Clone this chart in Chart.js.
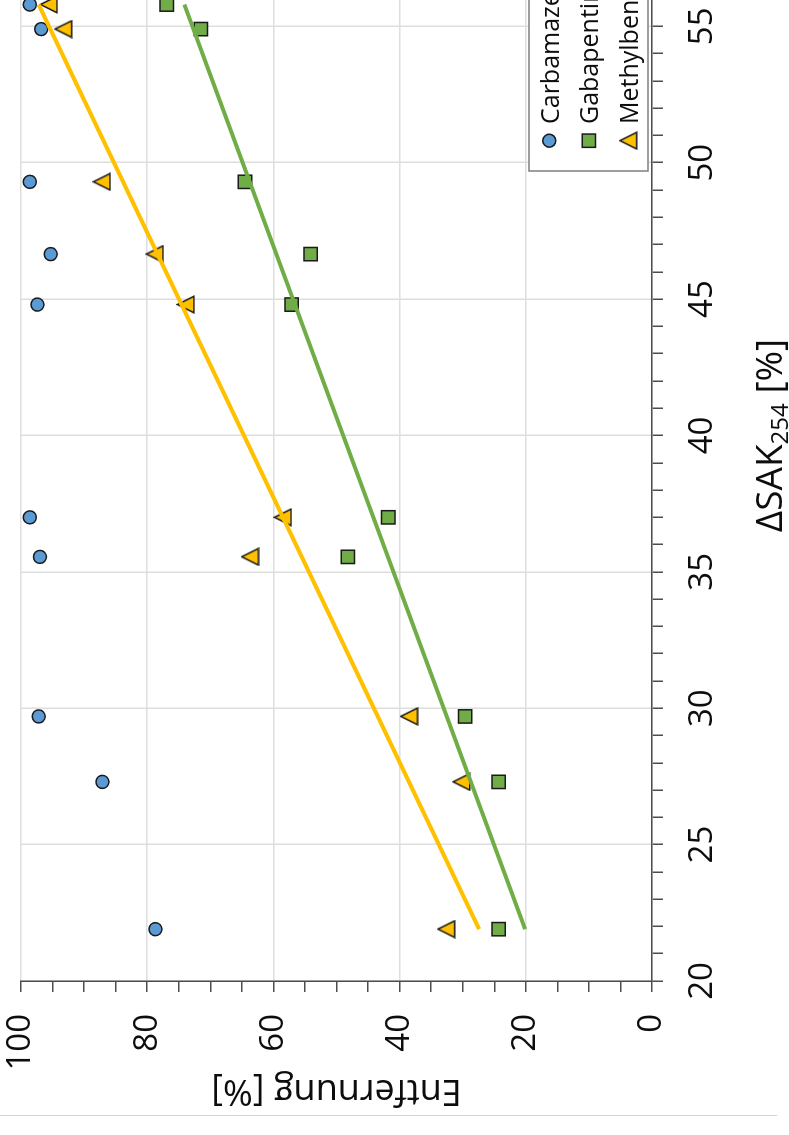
<!DOCTYPE html>
<html lang="de">
<head>
<meta charset="utf-8">
<title>Entfernung vs. ΔSAK254</title>
<script src="https://cdn.jsdelivr.net/npm/chart.js@4.4.1/dist/chart.umd.min.js"></script>
<style>
  html, body { margin:0; padding:0; background:#fff; width:789px; height:1135px; overflow:hidden; }
  /* the chart is drawn landscape and turned a quarter left, like the figure */
  #wrap { position:absolute; left:0; top:0; width:1300px; height:789px;
          transform-origin:0 0; transform:translateY(1135px) rotate(-90deg); }
  #rule { position:absolute; left:0; top:1115px; width:777px; border-top:1.5px solid #d4d4d4; }
</style>
</head>
<body>
<div id="wrap"><canvas id="graph" width="1300" height="789"></canvas></div>
<div id="rule"></div>
<script>
// ΔSAK254 [%] of the samples
var sak = [21.9, 27.3, 29.7, 35.55, 37.0, 44.8, 46.65, 49.3, 54.9, 55.8];
// Entfernung [%]
var carbamazepin = [78.7, 87.1, 97.2, 97.0, 98.6, 97.4, 95.3, 98.6, 96.8, 98.6];
var gabapentin   = [24.3, 24.3, 29.6, 48.2, 41.8, 57.1, 54.1, 64.5, 71.5, 76.9];
var methylbenzo  = [32.6, 30.2, 38.5, 63.7, 58.5, 73.9, 78.8, 87.2, 93.3, 95.6];
// linear trend lines (end points)
var trendX      = [21.9, 55.8];
var trendGaba   = [20.1, 74.1];
var trendMethyl = [27.4, 97.2];

var names = ['Carbamazepin', 'Gabapentin', 'Methylbenzotriazol'];
var xTicks = [20, 25, 30, 35, 40, 45, 50, 55, 60];
var yTicks = [0, 20, 40, 60, 80, 100];

var txt = '#0d0d0d';
var axisCol = '#4d4d4d';
var gridCol = '#dedede';
var edge = '#1a1a1a';
Chart.defaults.font.family = "'Open Sans', sans-serif";
Chart.defaults.color = txt;

function pts(xs, ys) {
  return xs.map(function (x, i) { return { x: x, y: ys[i] }; });
}

// excel-like triangle marker (as wide as high)
var tri = document.createElement('canvas');
tri.width = 19; tri.height = 19;
(function () {
  var t = tri.getContext('2d');
  t.beginPath();
  t.moveTo(9.5, 1.2);
  t.lineTo(17.8, 17.8);
  t.lineTo(1.2, 17.8);
  t.closePath();
  t.fillStyle = '#FFC000';
  t.fill();
  t.lineWidth = 1.5;
  t.lineJoin = 'miter';
  t.strokeStyle = edge;
  t.stroke();
})();

var markers = [
  { style: 'circle', radius: 6.5,  fill: '#5B9BD5' },
  { style: 'rect',   radius: 9.4,  fill: '#70AD47' },
  { style: tri,      radius: 9.5,  fill: '#FFC000' }
];

function drawMarker(c, m, x, y) {
  if (m.style === tri) {
    c.drawImage(tri, x - tri.width / 2, y - tri.height / 2);
    return;
  }
  c.beginPath();
  if (m.style === 'circle') {
    c.arc(x, y, m.radius, 0, Math.PI * 2);
  } else {
    var s = m.radius * Math.SQRT1_2;
    c.rect(x - s, y - s, 2 * s, 2 * s);
  }
  c.fillStyle = m.fill;
  c.fill();
  c.lineWidth = 1.5;
  c.strokeStyle = edge;
  c.stroke();
}

// legend box inside the plot, lower right
var boxLegend = {
  id: 'boxLegend',
  afterDatasetsDraw: function (chart) {
    var c = chart.ctx;
    c.save();
    c.fillStyle = '#fff';
    c.fillRect(964, 529, 326, 119);
    c.strokeStyle = '#7f7f7f';
    c.lineWidth = 1.5;
    c.strokeRect(964, 529, 326, 119);
    c.font = "25px 'Open Sans'";
    c.textBaseline = 'alphabetic';
    c.textAlign = 'left';
    names.forEach(function (n, i) {
      var y = 549.3 + i * 39.5;
      drawMarker(c, markers[i], 994.3, y);
      c.fillStyle = txt;
      c.fillText(n, 1011, y + 9.5);
    });
    c.restore();
  }
};

// x axis title with subscript
var xTitle = {
  id: 'xTitle',
  afterDraw: function (chart) {
    var c = chart.ctx, a = chart.chartArea;
    c.save();
    var big = "37px 'Open Sans'", small = "24px 'Open Sans'";
    c.font = big;  var w1 = c.measureText('ΔSAK').width, w3 = c.measureText(' [%]').width;
    c.font = small; var w2 = c.measureText('254').width;
    var x = (a.left + a.right) / 2 - (w1 + w2 + w3) / 2;
    var base = 782;
    c.fillStyle = txt;
    c.textAlign = 'left';
    c.textBaseline = 'alphabetic';
    c.font = big;   c.fillText('ΔSAK', x, base);
    c.font = small; c.fillText('254', x + w1, base + 6);
    c.font = big;   c.fillText(' [%]', x + w1 + w2, base);
    c.restore();
  }
};

var ctx = document.getElementById('graph').getContext('2d');
var chart = new Chart(ctx, {
  type: 'scatter',
  data: {
    datasets: [
      { type: 'line', label: 'Trend Methylbenzotriazol', data: pts(trendX, trendMethyl),
        borderColor: '#FFC000', borderWidth: 4, pointRadius: 0, fill: false, order: 0 },
      { type: 'line', label: 'Trend Gabapentin', data: pts(trendX, trendGaba),
        borderColor: '#70AD47', borderWidth: 4, pointRadius: 0, fill: false, order: 0 },
      { label: names[0], data: pts(sak, carbamazepin), pointStyle: 'circle', pointRadius: markers[0].radius,
        backgroundColor: markers[0].fill, borderColor: edge, borderWidth: 1.5, order: 1 },
      { label: names[1], data: pts(sak, gabapentin), pointStyle: 'rect', pointRadius: markers[1].radius,
        backgroundColor: markers[1].fill, borderColor: edge, borderWidth: 1.5, order: 1 },
      { label: names[2], data: pts(sak, methylbenzo), pointStyle: tri, pointRadius: markers[2].radius,
        backgroundColor: markers[2].fill, borderColor: edge, borderWidth: 1.5, order: 1 }
    ]
  },
  options: {
    responsive: false,
    animation: false,
    devicePixelRatio: 1,
    layout: { padding: { left: 0, right: 55, top: 21, bottom: 0 } },
    plugins: { legend: { display: false }, tooltip: { enabled: false } },
    scales: {
      x: {
        type: 'linear', min: 20, max: 60,
        afterFit: function (s) { s.height = 137; s.paddingLeft = 0; s.paddingRight = 0; },
        ticks: { stepSize: 1, autoSkip: false, maxRotation: 0, padding: 20,
                 font: { size: 33 }, color: txt,
                 callback: function (v) { return xTicks.indexOf(v) >= 0 ? v : ''; } },
        grid: { lineWidth: 1.5, tickLength: 11, tickColor: axisCol, tickWidth: 1.5,
                color: function (c) { return c.tick && xTicks.indexOf(c.tick.value) >= 0 ? gridCol : 'rgba(0,0,0,0)'; } },
        border: { color: axisCol, width: 1.5 }
      },
      y: {
        type: 'linear', min: 0, max: 100,
        afterFit: function (s) { s.width = 154; s.paddingTop = 0; s.paddingBottom = 0; },
        ticks: { stepSize: 5, autoSkip: false, padding: 22, font: { size: 33 }, color: txt,
                 callback: function (v) { return yTicks.indexOf(v) >= 0 ? v : ''; } },
        grid: { lineWidth: 1.5, tickLength: 11, tickColor: axisCol, tickWidth: 1.5,
                color: function (c) { return c.tick && yTicks.indexOf(c.tick.value) >= 0 ? gridCol : 'rgba(0,0,0,0)'; } },
        border: { color: axisCol, width: 1.5 },
        title: { display: true, text: 'Entfernung [%]', font: { size: 36 }, color: txt,
                 padding: { top: 23, bottom: 0 } }
      }
    }
  },
  plugins: [boxLegend, xTitle]
});
</script>
</body>
</html>
